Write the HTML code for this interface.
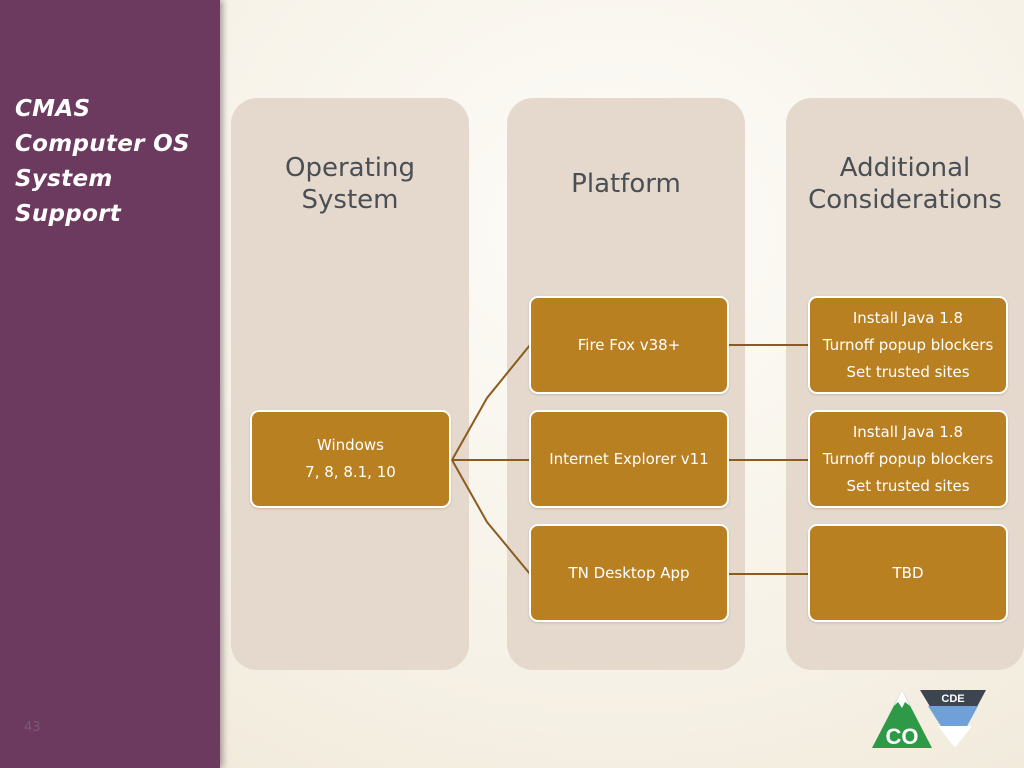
<!DOCTYPE html>
<html><head><meta charset="utf-8"><style>
body{margin:0;width:1024px;height:768px;overflow:hidden;position:relative;background:radial-gradient(ellipse at 60% 30%,#fdfcf8 0%,#f6f1e6 60%,#efe7d6 100%);font-family:"DejaVu Sans","Liberation Sans",sans-serif}
.side{position:absolute;left:0;top:0;width:220px;height:768px;background:#6b3a5e;box-shadow:3px 0 6px rgba(60,30,50,.4)}
.title{position:absolute;left:15px;top:92px;color:#fff;font-style:italic;font-weight:bold;font-size:23px;line-height:35px;font-family:"DejaVu Sans",sans-serif;letter-spacing:0.3px}
.num{position:absolute;left:24px;top:720px;color:#7d5a72;font-size:13px}
.col{position:absolute;top:98px;height:572px;width:238px;background:#e4d9cc;border-radius:26px}
.h{position:absolute;top:152px;width:238px;text-align:center;color:#4a4f55;font-size:26px;line-height:32px}
.b{position:absolute;width:196px;height:94px;background:#b98022;border:2px solid #fff;border-radius:9px;color:#fff;font-size:15px;display:flex;align-items:center;justify-content:center;text-align:center;line-height:27px;box-shadow:0 1px 2px rgba(0,0,0,.15)}
</style></head><body>
<div class="side"></div>
<div class="title">CMAS<br>Computer OS<br>System<br>Support</div>
<div class="num">43</div>
<div class="col" style="left:231px"></div>
<div class="col" style="left:507px"></div>
<div class="col" style="left:786px"></div>
<div class="h" style="left:231px">Operating<br>System</div>
<div class="h" style="left:507px;top:168px">Platform</div>
<div class="h" style="left:786px">Additional<br>Considerations</div>
<svg style="position:absolute;left:0;top:0" width="1024" height="768">
<g stroke="#8a5c1e" stroke-width="2" fill="none">
<polyline points="452,460 487,398 530,345"/>
<line x1="452" y1="460" x2="530" y2="460"/>
<polyline points="452,460 487,522 530,574"/>
<line x1="728" y1="345" x2="808" y2="345"/>
<line x1="728" y1="460" x2="808" y2="460"/>
<line x1="728" y1="574" x2="808" y2="574"/>
</g>
<g transform="translate(872,690)">
<polygon points="30,0 60,58 0,58" fill="#2e9a48"/>
<polygon points="30,0 38,16 33,12 30,18 26,12 22,16" fill="#fff"/>
<text x="30" y="54" text-anchor="middle" fill="#fff" font-size="22" font-weight="bold" font-family="Liberation Sans,sans-serif">CO</text>
<polygon points="48,0 114,0 83,58" fill="#3d4650"/>
<polygon points="56,16 106,16 83,58" fill="#6fa0d8"/>
<polygon points="66,36 100,36 83,58" fill="#fff"/>
<text x="81" y="12" text-anchor="middle" fill="#fff" font-size="11" font-weight="bold" font-family="Liberation Sans,sans-serif">CDE</text>
</g>
</svg>
<div class="b" style="left:250px;top:410px;width:197px;height:94px">Windows<br>7, 8, 8.1, 10</div>
<div class="b" style="left:529px;top:296px">Fire Fox v38+</div>
<div class="b" style="left:529px;top:410px">Internet Explorer v11</div>
<div class="b" style="left:529px;top:524px">TN Desktop App</div>
<div class="b" style="left:808px;top:296px">Install Java 1.8<br>Turnoff popup blockers<br>Set trusted sites</div>
<div class="b" style="left:808px;top:410px">Install Java 1.8<br>Turnoff popup blockers<br>Set trusted sites</div>
<div class="b" style="left:808px;top:524px">TBD</div>
</body></html>
